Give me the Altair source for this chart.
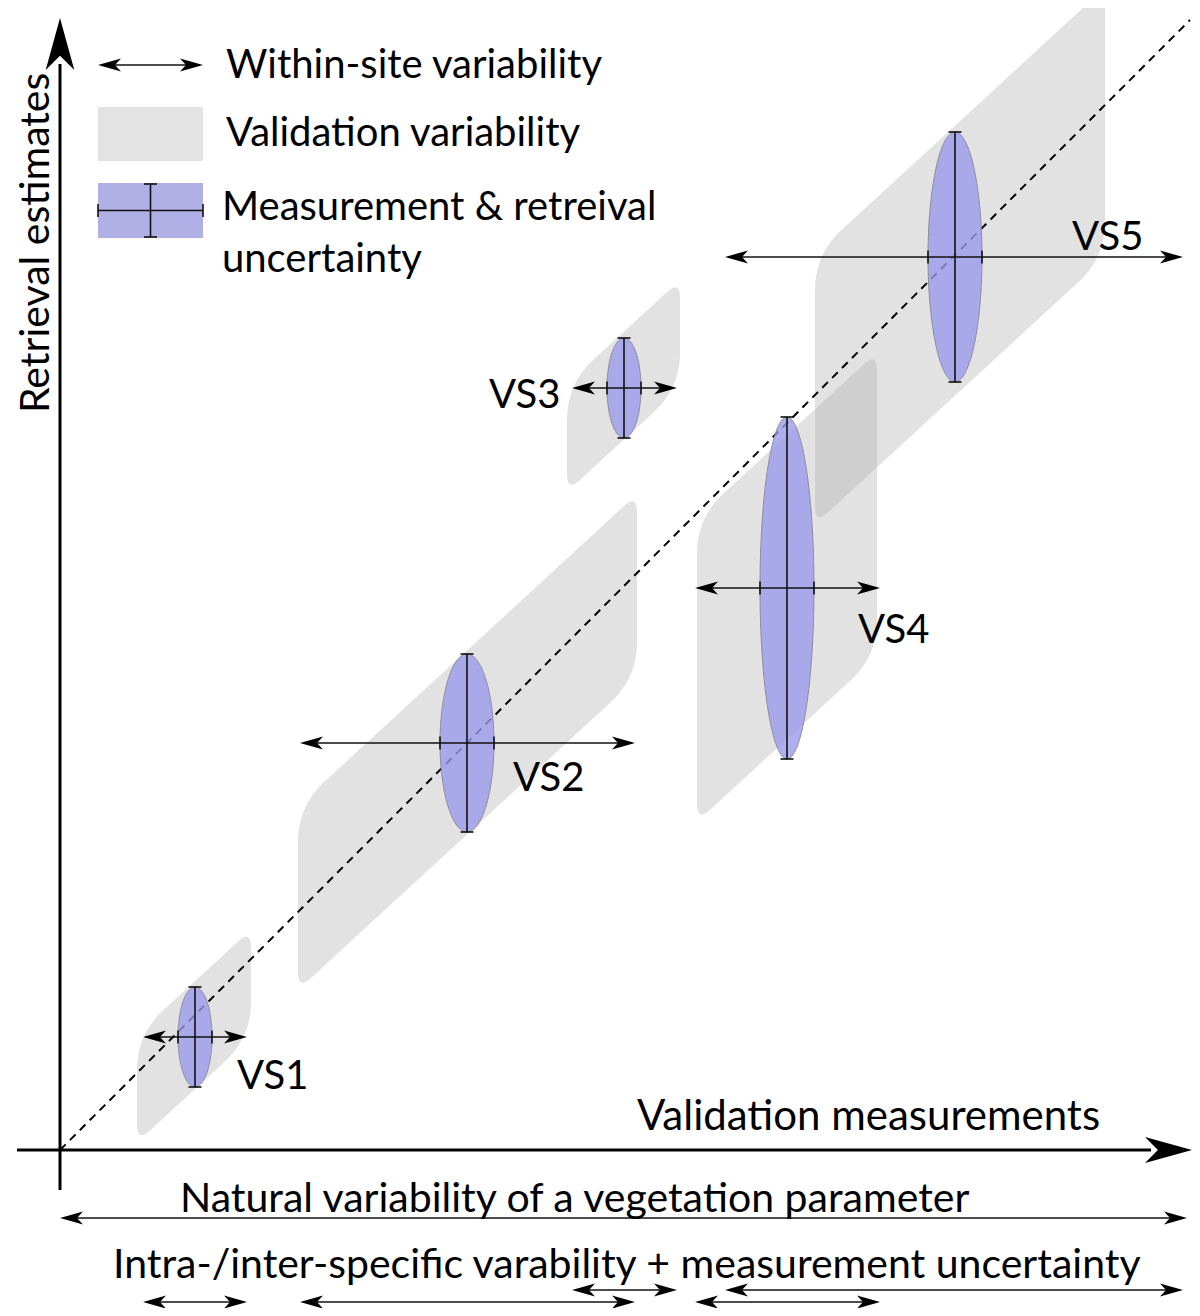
import numpy as np
import pandas as pd
import altair as alt

# ---------------- values (diagram units: origin at the axes crossing) ----------------
sites     = ["VS1", "VS2", "VS3", "VS4", "VS5"]
site_x    = [135, 407, 564, 727, 895]      # validation measurement (centre)
site_y    = [113, 407, 762, 562, 893]      # retrieval estimate (centre)
unc_x     = [17, 27, 17, 27, 27]           # measurement uncertainty (half width)
unc_y     = [50, 89, 50, 171, 125]         # retrieval uncertainty (half height)
within_lo = [83, 240, 512, 635, 665]       # within-site variability range
within_hi = [187, 575, 617, 820, 1123]
valid_lo  = [77, 238, 507, 637, 755]       # validation variability band
valid_hi  = [191, 577, 620, 817, 1045]
valid_cy  = [114, 408, 764, 563, 894]
valid_h   = [54, 92, 54, 152, 135]
label_x   = [177, 453, 429, 798, 1012]
label_y   = [61, 359, 742, 507, 900]
range_row = [0, 0, 1, 0, 1]                # row of the range arrows under the x axis

one_to_one    = [0, 1130]
x_axis_span   = [-43, 1132]
y_axis_span   = [-40, 1132]
natural_range = [0, 1127]
natural_y     = -68
range_rows_y  = [-152, -140]

texts = [
    ("Within-site variability", 166, 1072),
    ("Validation variability", 166, 1004),
    ("Measurement & retreival", 162, 930),
    ("uncertainty", 162, 878),
    ("Validation measurements", 577, 20),
    ("Natural variability of a vegetation parameter", 120, -62),
    ("Intra-/inter-specific varability + measurement uncertainty", 53, -128),
]
axis_title = ("Retrieval estimates", -11, 737)

legend_arrow = [38, 143, 1085]
legend_grey = [38, 143, 989, 1043]
legend_blue = [38, 143, 912, 967]

# ---------------- styles ----------------
FONT = "Lato"
FONT_SIZES = {
    "Within-site variability": 40, "Validation variability": 40,
    "Measurement & retreival": 40, "uncertainty": 40,
    "Validation measurements": 42,
    "Natural variability of a vegetation parameter": 41,
    "Intra-/inter-specific varability + measurement uncertainty": 41,
    "Retrieval estimates": 41,
}
LABEL_SIZE = 40
SLOPE = 0.92
ROUND_OBTUSE = 36
ROUND_ACUTE = 18
CAP = 6.5
SMALL_HEAD = "M1,0 L-1,-0.57 L-0.48,0 L-1,0.57 Z"
BIG_HEAD = "M1,0 L-1,-0.55 L-0.45,0 L-1,0.55 Z"
SMALL_LEN = 23
BIG_LEN_X = 47
BIG_LEN_Y = 52

XS = alt.Scale(domain=[-52, 1132], nice=False, zero=False)
YS = alt.Scale(domain=[-158, 1142], nice=False, zero=False)


def X(f):
    return alt.X(f, type="quantitative", scale=XS, axis=None)


def Y(f):
    return alt.Y(f, type="quantitative", scale=YS, axis=None)


def bez(p0, p1, p2, n=16):
    t = np.linspace(0, 1, n)
    x = (1 - t) ** 2 * p0[0] + 2 * t * (1 - t) * p1[0] + t ** 2 * p2[0]
    y = (1 - t) ** 2 * p0[1] + 2 * t * (1 - t) * p1[1] + t ** 2 * p2[1]
    return x, y


def rounded_band(lo, hi, cy, h, s=SLOPE, dob=ROUND_OBTUSE, dac=ROUND_ACUTE):
    cx = (lo + hi) / 2
    TL = np.array([lo, cy + h + s * (lo - cx)])
    TR = np.array([hi, cy + h + s * (hi - cx)])
    BL = np.array([lo, cy - h + s * (lo - cx)])
    BR = np.array([hi, cy - h + s * (hi - cx)])

    def toward(a, b, d):
        v = b - a
        return a + v / np.hypot(v[0], v[1]) * d

    A1 = np.array([lo, TL[1] - dob]); A2 = toward(TL, TR, dob)
    B1 = toward(TR, TL, dac); B2 = np.array([hi, TR[1] - dac])
    C1 = np.array([lo, BL[1] + dac]); C2 = toward(BL, BR, dac)
    D1 = toward(BR, BL, dob); D2 = np.array([hi, BR[1] + dob])
    t1 = bez(A1, TL, A2); t2 = bez(B1, TR, B2)
    b1 = bez(C1, BL, C2); b2 = bez(D1, BR, D2)
    tx = np.concatenate([t1[0], t2[0]]); ty = np.concatenate([t1[1], t2[1]])
    bx = np.concatenate([b1[0], b2[0]]); by = np.concatenate([b1[1], b2[1]])
    xs = np.unique(np.concatenate([tx, bx]))
    return xs, np.interp(xs, tx, ty), np.interp(xs, bx, by)


# ---------------- build tables ----------------
band_rows = []
for i, s in enumerate(sites):
    xs, top, bot = rounded_band(valid_lo[i], valid_hi[i], valid_cy[i], valid_h[i])
    for a, b, c in zip(xs, top, bot):
        band_rows.append({"site": s, "x": a, "top": b, "bot": c})
band_df = pd.DataFrame(band_rows)

ell_rows = []
t = np.linspace(0, np.pi, 81)
for i, s in enumerate(sites):
    for tt in t:
        ell_rows.append({"site": s,
                         "x": site_x[i] - unc_x[i] * np.cos(tt),
                         "top": site_y[i] + unc_y[i] * np.sin(tt),
                         "bot": site_y[i] - unc_y[i] * np.sin(tt)})
ell_df = pd.DataFrame(ell_rows)

thin = []
heads = []


def seg(x1, x2, y1, y2):
    thin.append({"x": x1, "x2": x2, "y": y1, "y2": y2})


def double_arrow(lo, hi, y):
    seg(lo + 4, hi - 4, y, y)
    heads.append({"x": lo + SMALL_LEN / 2, "y": y, "angle": 180})
    heads.append({"x": hi - SMALL_LEN / 2, "y": y, "angle": 0})


for i in range(len(sites)):
    cx, cy, rx, ry = site_x[i], site_y[i], unc_x[i], unc_y[i]
    double_arrow(within_lo[i], within_hi[i], cy)
    seg(cx, cx, cy - ry, cy + ry)
    seg(cx - CAP, cx + CAP, cy + ry, cy + ry)
    seg(cx - CAP, cx + CAP, cy - ry, cy - ry)
    seg(cx - rx, cx - rx, cy - CAP, cy + CAP)
    seg(cx + rx, cx + rx, cy - CAP, cy + CAP)
    double_arrow(within_lo[i], within_hi[i], range_rows_y[range_row[i]])

double_arrow(natural_range[0], natural_range[1], natural_y)
double_arrow(legend_arrow[0], legend_arrow[1], legend_arrow[2])

# legend error-bar cross
lx0, lx1, ly0, ly1 = legend_blue
lmx = (lx0 + lx1) / 2
lmy = (ly0 + ly1) / 2
seg(lx0, lx1, lmy, lmy)
seg(lx0, lx0, lmy - CAP, lmy + CAP)
seg(lx1, lx1, lmy - CAP, lmy + CAP)
seg(lmx, lmx, ly0 + 1, ly1 - 1)
seg(lmx - CAP, lmx + CAP, ly0 + 1, ly0 + 1)
seg(lmx - CAP, lmx + CAP, ly1 - 1, ly1 - 1)

thin_df = pd.DataFrame(thin)
heads_df = pd.DataFrame(heads)

axis_df = pd.DataFrame([
    {"x": x_axis_span[0], "x2": x_axis_span[1] - BIG_LEN_X + 6, "y": 0, "y2": 0},
    {"x": 0, "x2": 0, "y": y_axis_span[0], "y2": y_axis_span[1] - BIG_LEN_Y + 6},
])
big_x_df = pd.DataFrame([{"x": x_axis_span[1] - BIG_LEN_X / 2, "y": 0, "angle": 0}])
big_y_df = pd.DataFrame([{"x": 0, "y": y_axis_span[1] - BIG_LEN_Y / 2, "angle": 270}])

diag_df = pd.DataFrame([{"x": one_to_one[0], "y": one_to_one[0], "x2": one_to_one[1], "y2": one_to_one[1]}])

rect_df = pd.DataFrame([
    {"k": "grey", "x": legend_grey[0], "x2": legend_grey[1], "y": legend_grey[2], "y2": legend_grey[3]},
    {"k": "blue", "x": legend_blue[0], "x2": legend_blue[1], "y": legend_blue[2], "y2": legend_blue[3]},
])

text_df = pd.DataFrame([{"t": a, "x": b, "y": c, "fs": FONT_SIZES[a]} for a, b, c in texts]
                       + [{"t": s, "x": label_x[i], "y": label_y[i], "fs": LABEL_SIZE}
                          for i, s in enumerate(sites)])
title_df = pd.DataFrame([{"t": axis_title[0], "x": axis_title[1], "y": axis_title[2]}])

# ---------------- layers ----------------
bands = alt.Chart(band_df).mark_area(color="#ababab", opacity=0.345).encode(
    x=X("x"), y=Y("top"), y2=alt.Y2("bot"), detail="site:N")

diag = alt.Chart(diag_df).mark_rule(color="#000000", strokeWidth=2, strokeDash=[8, 6]).encode(
    x=X("x"), y=Y("y"), x2=alt.X2("x2"), y2=alt.Y2("y2"))

axes = alt.Chart(axis_df).mark_rule(color="black", strokeWidth=3).encode(
    x=X("x"), x2=alt.X2("x2"), y=Y("y"), y2=alt.Y2("y2"))

big_x = alt.Chart(big_x_df).mark_point(shape=BIG_HEAD, filled=True, color="black", opacity=1,
                                       size=BIG_LEN_X ** 2, strokeWidth=0).encode(
    x=X("x"), y=Y("y"), angle=alt.Angle("angle:Q", scale=None))
big_y = alt.Chart(big_y_df).mark_point(shape=BIG_HEAD, filled=True, color="black", opacity=1,
                                       size=BIG_LEN_Y ** 2, strokeWidth=0).encode(
    x=X("x"), y=Y("y"), angle=alt.Angle("angle:Q", scale=None))

ellipses = alt.Chart(ell_df).mark_area(fill="#9b9beb", fillOpacity=0.8, stroke="#8d8d9d",
                                       strokeWidth=1).encode(
    x=X("x"), y=Y("top"), y2=alt.Y2("bot"), detail="site:N")

legend_rects = alt.Chart(rect_df).mark_rect().encode(
    x=X("x"), x2=alt.X2("x2"), y=Y("y"), y2=alt.Y2("y2"),
    color=alt.Color("k:N", scale=alt.Scale(domain=["grey", "blue"], range=["#e3e3e3", "#b0b0e6"]),
                    legend=None))

rules = alt.Chart(thin_df).mark_rule(color="#111111", strokeWidth=1.6).encode(
    x=X("x"), x2=alt.X2("x2"), y=Y("y"), y2=alt.Y2("y2"))

small_heads = alt.Chart(heads_df).mark_point(shape=SMALL_HEAD, filled=True, color="black", opacity=1,
                                             size=SMALL_LEN ** 2, strokeWidth=0).encode(
    x=X("x"), y=Y("y"), angle=alt.Angle("angle:Q", scale=None))

labels = alt.Chart(text_df).mark_text(align="left", baseline="alphabetic", font=FONT,
                                      color="black").encode(
    x=X("x"), y=Y("y"), text="t:N", size=alt.Size("fs:Q", scale=None))
ytitle = alt.Chart(title_df).mark_text(align="left", baseline="alphabetic", font=FONT,
                                       fontSize=FONT_SIZES["Retrieval estimates"],
                                       color="black", angle=270).encode(x=X("x"), y=Y("y"), text="t:N")

chart = alt.layer(
    bands, diag, axes, big_x, big_y, ellipses, legend_rects, rules, small_heads, labels, ytitle
).properties(
    width=1184, height=1300, padding=0, autosize=alt.AutoSizeParams(type="none"),
    background="white"
).configure_view(strokeWidth=0)

chart.save("out.html", embed_options={"renderer": "svg", "actions": False})
